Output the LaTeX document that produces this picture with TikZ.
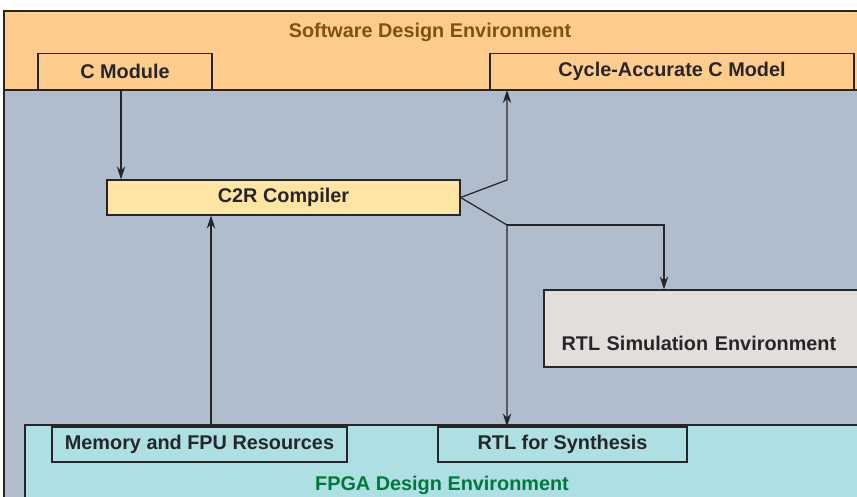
\documentclass[tikz,border=0pt]{standalone}
\usepackage{fontspec}
\setmainfont{Liberation Sans}
\usetikzlibrary{arrows.meta,positioning}
\definecolor{slate}{RGB}{176,189,204}
\definecolor{peach}{RGB}{254,205,142}
\definecolor{cream}{RGB}{255,228,163}
\definecolor{stone}{RGB}{226,222,220}
\definecolor{aqua}{RGB}{173,223,227}
\definecolor{umber}{RGB}{128,82,10}
\definecolor{pine}{RGB}{0,122,58}
\definecolor{ink}{RGB}{38,38,40}
\tikzset{
  >={Stealth[length=2.6mm,width=1.7mm]},
  unit/.style={draw=ink,line width=0.7pt,fill=#1,minimum height=0.72cm,
    inner sep=0pt,font=\fontsize{11.3}{13}\selectfont\bfseries,text=ink},
  unit/.default=peach,
  zone/.style={draw=ink,line width=0.7pt,fill=#1},
  title/.style={font=\fontsize{11.3}{13}\selectfont\bfseries,text=#1},
  flow/.style={->,line width=0.7pt,draw=ink},
}
\begin{document}
\begin{tikzpicture}[x=0.02cm,y=-0.02cm]
  \useasboundingbox (0,0) rectangle (857,496);
  % environments
  \filldraw[zone=slate] (4,11) rectangle (870,510);
  \filldraw[zone=peach] (4,11) rectangle (870,90);
  \node[title=umber] (sw) at (430,32) {Software Design Environment};
  \filldraw[zone=aqua] (25,425) rectangle (870,510);
  \node[title=pine] (hw) at (442,485) {FPGA Design Environment};
  % blocks
  \node[unit,minimum width=3.48cm] (cmod) at (125,71.5) {C Module};
  \node[unit,minimum width=7.28cm] (cycle) at (672,71.5) {Cycle-Accurate C Model};
  \node[unit=cream,minimum width=7.06cm,minimum height=0.7cm] (c2r) at (283.5,197.5) {C2R Compiler};
  \node[unit=stone,minimum width=6.4cm,minimum height=1.54cm,text height=0.9cm,
    align=left,text width=5.7cm] (sim) at (704,328.5) {RTL Simulation Environment};
  \node[unit=aqua,minimum width=5.9cm,minimum height=0.7cm] (mem) at (199.5,444.5) {Memory and FPU Resources};
  \node[unit=aqua,minimum width=4.98cm,minimum height=0.7cm] (synth) at (562.5,444.5) {RTL for Synthesis};
  % connectors
  \coordinate (up) at (507,180);
  \coordinate (dn) at (507,225);
  \coordinate (turn) at (664,225);
  \draw[flow] ([xshift=-0.08cm]cmod.south) -- ([xshift=-0.08cm]cmod.south |- c2r.north);
  \draw[flow] ([xshift=0.23cm]mem.north) -- ([xshift=0.23cm]mem.north |- c2r.south);
  \draw[flow] (c2r.east) -- (up) -- (up |- cycle.south);
  \draw[flow] (c2r.east) -- (dn) -- (dn |- synth.north);
  \draw[flow] (dn) -- (turn) -- (turn |- sim.north);
\end{tikzpicture}
\end{document}
